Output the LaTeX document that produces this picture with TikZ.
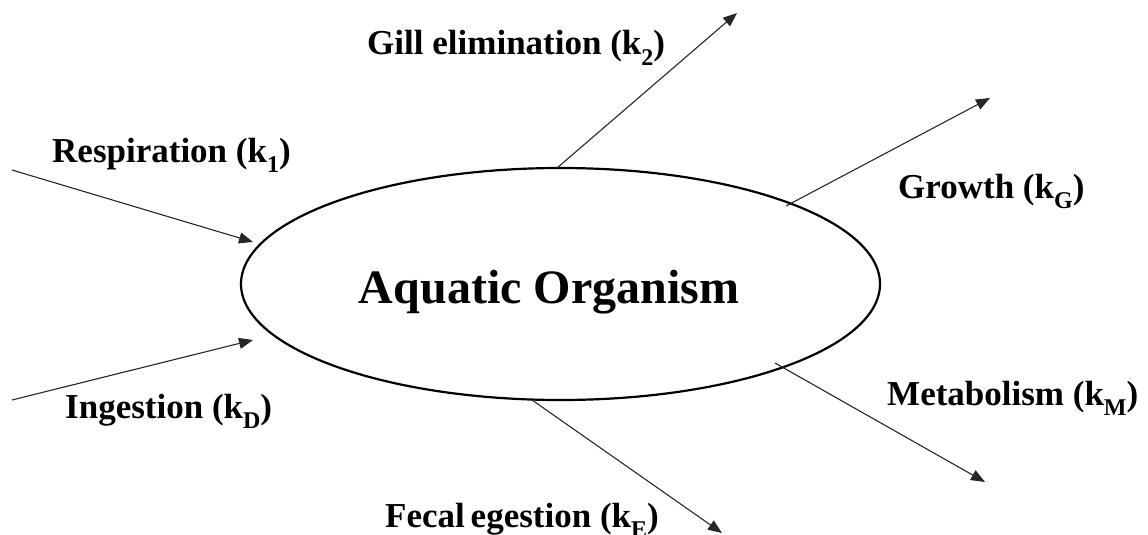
\documentclass[tikz,border=0pt]{standalone}
\usepackage{fontspec}
\setmainfont{Liberation Serif}
\usetikzlibrary{arrows.meta,shapes.geometric}
\newcommand\lowsub[1]{\raisebox{-0.3em}{\fontsize{24}{24}\selectfont #1}}
\tikzset{
  lbl/.style={font=\fontsize{35}{40}\selectfont\bfseries, anchor=base west, inner sep=0pt},
  flow/.style={line width=1.1pt, draw=black!85, -{Triangle[length=14pt,width=11pt]}},
  organism/.style={ellipse, draw, line width=2.2pt, minimum width=639pt, minimum height=232pt, inner sep=0pt}
}
\begin{document}
\begin{tikzpicture}[x=1pt,y=-1pt]
\useasboundingbox (0,0) rectangle (1148,535);
\node[organism] (org) at (560.5,284) {};
\node[font=\fontsize{48}{56}\selectfont\bfseries, anchor=base, inner sep=0pt] (title) at (549,303) {Aquatic Organism};

% labels
\node[lbl] (resp) at (52,162) {Respiration (k\lowsub{1})};
\node[lbl] (ing) at (65,418) {Ingestion (k\lowsub{D})};
\node[lbl] (gill) at (367,55) {Gill elimination (k\lowsub{2})};
\node[lbl] (grow) at (898,198) {Growth (k\lowsub{G})};
\node[lbl] (meta) at (887,405) {Metabolism (k\lowsub{M})};
\node[lbl] (fec) at (385,527) {Fecal\,egestion (k\lowsub{E})};

% connector end points
\coordinate (rs) at (12,170);
\coordinate (re) at (253,242);
\coordinate (is) at (12,400);
\coordinate (ie) at (253,340);
\coordinate (gs) at (557,168);
\coordinate (ge) at (737,13);
\coordinate (grs) at (786,206);
\coordinate (gre) at (990,98);
\coordinate (ms) at (775,363);
\coordinate (me) at (985,482);
\coordinate (fs) at (532,400);
\coordinate (fe) at (722,533);

\draw[flow] (rs) -- (re);
\draw[flow] (is) -- (ie);
\draw[flow] (gs) -- (ge);
\draw[flow] (grs) -- (gre);
\draw[flow] (ms) -- (me);
\draw[flow] (fs) -- (fe);
\end{tikzpicture}
\end{document}
